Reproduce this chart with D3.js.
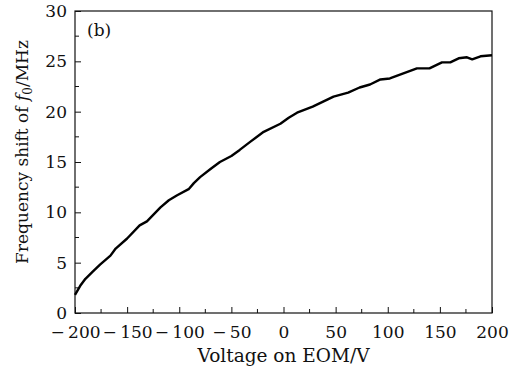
<!DOCTYPE html>
<html>
<head>
<meta charset="utf-8">
<script src="https://cdn.jsdelivr.net/npm/d3@7"></script>
<style>
  body { margin: 0; background: #fff; }
  text { font-family: "DejaVu Serif", "Liberation Serif", serif; fill: #111; }
</style>
</head>
<body>
<div id="chart"></div>
<script>
// values (voltage in V, frequency shift in MHz)
const voltage = [-200, -195, -190, -183, -176, -166, -161, -150, -138, -131, -118, -110, -102, -91, -86, -80,
  -70, -61, -50, -42, -32, -19, -3, 5, 13, 28, 38, 48, 55, 62, 73, 83, 93, 102, 115, 128, 140, 152, 160,
  168, 176, 181, 189, 200];
const shift = [1.8, 2.7, 3.4, 4.1, 4.8, 5.7, 6.4, 7.4, 8.7, 9.1, 10.5, 11.2, 11.7, 12.3, 12.9, 13.5,
  14.3, 15.0, 15.6, 16.2, 17.0, 18.0, 18.8, 19.4, 19.9, 20.5, 21.0, 21.5, 21.7, 21.9, 22.4, 22.7, 23.2,
  23.3, 23.8, 24.3, 24.3, 24.9, 24.9, 25.3, 25.4, 25.2, 25.5, 25.6];
const xTicks = [-200, -150, -100, -50, 0, 50, 100, 150, 200];
const yTicks = [0, 5, 10, 15, 20, 25, 30];

const width = 515, height = 374;
const margin = {left: 75, right: 23, top: 11, bottom: 61};

const svg = d3.select('#chart').append('svg')
    .attr('width', width)
    .attr('height', height);

const x = d3.scaleLinear().domain([-200, 200]).range([margin.left, width - margin.right]);
const y = d3.scaleLinear().domain([0, 30]).range([height - margin.bottom, margin.top]);

// minor ticks first, then major ones
const xMinor = d3.range(-200, 201, 25).filter(v => !xTicks.includes(v));
const yMinor = d3.range(0, 30.1, 2.5).filter(v => !yTicks.includes(v));

svg.append('g')
    .selectAll('line')
    .data(xMinor)
    .join('line')
    .attr('x1', d => x(d)).attr('x2', d => x(d))
    .attr('y1', y(0)).attr('y2', y(0) - 4)
    .style('stroke', '#111');

svg.append('g')
    .selectAll('line')
    .data(yMinor)
    .join('line')
    .attr('y1', d => y(d)).attr('y2', d => y(d))
    .attr('x1', x(-200)).attr('x2', x(-200) + 4)
    .style('stroke', '#111');

const xAxis = svg.append('g')
    .attr('transform', `translate(0, ${y(0)})`)
    .call(d3.axisBottom(x).tickValues(xTicks).tickSizeInner(-6).tickSizeOuter(0)
        .tickFormat(d => d < 0 ? '\u2212\u2009' + Math.abs(d) : d));
xAxis.select('.domain').remove();
xAxis.selectAll('.tick line').style('stroke', '#111');
xAxis.selectAll('.tick text')
    .attr('y', 25)
    .attr('dy', 0)
    .style('font-family', '"DejaVu Serif", serif')
    .style('font-size', '17px')
    .style('fill', '#111');

const yAxis = svg.append('g')
    .attr('transform', `translate(${x(-200)}, 0)`)
    .call(d3.axisLeft(y).tickValues(yTicks).tickSizeInner(-6).tickSizeOuter(0));
yAxis.select('.domain').remove();
yAxis.selectAll('.tick line').style('stroke', '#111');
yAxis.selectAll('.tick text')
    .attr('x', -8)
    .style('font-family', '"DejaVu Serif", serif')
    .style('font-size', '17px')
    .style('fill', '#111');

// frame
svg.append('rect')
    .attr('x', x(-200))
    .attr('y', y(30))
    .attr('width', x(200) - x(-200))
    .attr('height', y(0) - y(30))
    .style('fill', 'none')
    .style('stroke', '#111')
    .style('stroke-width', 1.2);

const line = d3.line()
    .x((d, i) => x(voltage[i]))
    .y(d => y(d));

svg.append('path')
    .datum(shift)
    .attr('d', line)
    .style('fill', 'none')
    .style('stroke', '#000')
    .style('stroke-width', 2.4)
    .style('stroke-linejoin', 'round');

svg.append('text')
    .attr('x', 87)
    .attr('y', 36)
    .style('font-size', '17px')
    .text('(b)');

svg.append('text')
    .attr('x', (x(-200) + x(200)) / 2)
    .attr('y', 362)
    .attr('text-anchor', 'middle')
    .style('font-size', '18.5px')
    .text('Voltage on EOM/V');

const yLabel = svg.append('text')
    .attr('transform', 'translate(28, 152) rotate(-90)')
    .attr('text-anchor', 'middle')
    .style('font-size', '17px');
yLabel.append('tspan').text('Frequency shift of ');
yLabel.append('tspan').style('font-style', 'italic').text('f');
yLabel.append('tspan').attr('dy', 4).style('font-size', '12px').text('0');
yLabel.append('tspan').attr('dy', -4).text('/MHz');
</script>
</body>
</html>
